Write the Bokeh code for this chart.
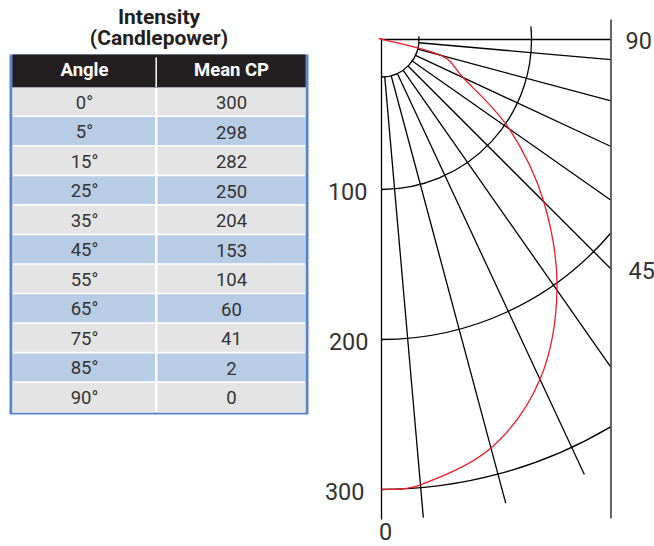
import numpy as np
from bokeh.plotting import figure
from bokeh.models import Range1d
from bokeh.core.properties import value
from bokeh.embed import file_html
from bokeh.resources import INLINE

# ---------------- data ----------------
angles = [0, 5, 15, 25, 35, 45, 55, 65, 75, 85, 90]
mean_cp = [300, 298, 282, 250, 204, 153, 104, 60, 41, 2, 0]
angle_labels = [f"{a}°" for a in angles]
cp_labels = [str(v) for v in mean_cp]
ring_radii = [100, 200, 300]
ring_labels = ["100", "200", "300"]
spoke_angles = [5, 15, 25, 35, 45, 55, 65, 75, 85]
title_lines = ["Intensity", "(Candlepower)"]
header_labels = ["Angle", "Mean CP"]

# ---------------- geometry helpers (pixel layout -> data units) ----------------
W, H = 654, 546
SCALE = 1.5           # pixels per candlepower unit
OX, OY = 381, 39      # polar origin in page pixels
TSHIFT = 8            # baseline correction for text placement


def X(px):
    return (px - OX) / SCALE


def Y(py):
    return (OY - py) / SCALE


def YT(py):
    return Y(py - TSHIFT)


def pol(theta_deg, r):
    t = np.radians(np.asarray(theta_deg, dtype=float))
    r = np.asarray(r, dtype=float)
    return r * np.sin(t), -r * np.cos(t)


p = figure(width=W, height=H, output_backend="svg", toolbar_location=None,
           x_range=Range1d(X(0), X(W)), y_range=Range1d(Y(H), Y(0)),
           min_border=0, tools="")
p.axis.visible = False
p.grid.visible = False
p.outline_line_color = None
p.background_fill_color = "white"
p.border_fill_color = "white"

FONT = value("Roboto")
TXT = "#333333"

# ---------------- polar grid ----------------
R_MAX = 320
INNER_R = 25
ARC_END = 95
X_EDGE = X(610.5)
LW = 1.3

# arcs
for r in [INNER_R] + ring_radii:
    end = ARC_END
    if r * np.sin(np.radians(ARC_END)) > X_EDGE:
        end = np.degrees(np.arcsin(X_EDGE / r))
    p.arc(x=0, y=0, radius=r, start_angle=np.radians(-90),
          end_angle=np.radians(end - 90), line_color="black", line_width=LW)

# spokes
sa = np.array(spoke_angles, dtype=float)
r_end = np.minimum(R_MAX, X_EDGE / np.sin(np.radians(sa)))
x0, y0 = pol(sa, INNER_R)
x1, y1 = pol(sa, r_end)
p.segment(x0=x0, y0=y0, x1=x1, y1=y1, line_color="black", line_width=LW)
# 0 deg and 90 deg axes
p.segment(x0=[0, 0], y0=[0, 0], x1=[0, X_EDGE], y1=[-R_MAX, 0],
          line_color="black", line_width=LW)
# right boundary
p.segment(x0=[X_EDGE], y0=[Y(19)], x1=[X_EDGE], y1=[Y(518)],
          line_color="#555555", line_width=1.8)

# ---------------- candlepower curve (smooth through the data) ----------------
px_, py_ = pol(angles, mean_cp)
n = len(px_)
xs = np.concatenate([[px_[0]], px_, [px_[-1]]])
ys = np.concatenate([[py_[0]], py_, [py_[-1]]])
bx0, by0, bx1, by1, cx0, cy0, cx1, cy1 = [], [], [], [], [], [], [], []
for i in range(n - 1):
    j = i + 1
    bx0.append(xs[j]); by0.append(ys[j])
    bx1.append(xs[j + 1]); by1.append(ys[j + 1])
    cx0.append(xs[j] + (xs[j + 1] - xs[j - 1]) / 6)
    cy0.append(ys[j] + (ys[j + 1] - ys[j - 1]) / 6)
    cx1.append(xs[j + 1] - (xs[j + 2] - xs[j]) / 6)
    cy1.append(ys[j + 1] - (ys[j + 2] - ys[j]) / 6)
p.bezier(x0=bx0, y0=by0, x1=bx1, y1=by1, cx0=cx0, cy0=cy0, cx1=cx1, cy1=cy1,
         line_color="#ee1c24", line_width=1.3)

# ring labels and side labels
LBL = "23.5px"
ring_right = [367, 368, 364]
ring_base = [199, 349, 499]
p.text(x=[X(v) for v in ring_right], y=[YT(b) for b in ring_base], text=ring_labels,
       text_align="right", text_baseline="alphabetic", text_font=FONT,
       text_font_size=LBL, text_color=TXT)
p.text(x=[X(625), X(628)], y=[YT(48), YT(278)], text=["90", "45"],
       text_align="left", text_baseline="alphabetic", text_font=FONT,
       text_font_size=LBL, text_color=TXT)
p.text(x=[0], y=[YT(539)], text=["0"], x_offset=[4],
       text_align="center", text_baseline="alphabetic", text_font=FONT,
       text_font_size=LBL, text_color=TXT)

# ---------------- table ----------------
BLUE_BORDER = "#5a86c8"
HEADER = "#231f20"
GRAY = "#e4e4e4"
BLUE = "#b9cce5"

T_LEFT, T_RIGHT, T_TOP, T_BOTTOM = 9, 308, 54, 414
p.quad(left=[X(T_LEFT)], right=[X(T_RIGHT)], top=[Y(T_TOP)], bottom=[Y(T_BOTTOM)],
       fill_color=BLUE_BORDER, line_color=None)
p.quad(left=[X(12)], right=[X(305)], top=[Y(87)], bottom=[Y(412)],
       fill_color="white", line_color=None)
p.quad(left=[X(12)], right=[X(305)], top=[Y(T_TOP)], bottom=[Y(87)],
       fill_color=HEADER, line_color=None)
p.segment(x0=[X(155.7)], y0=[Y(57)], x1=[X(155.7)], y1=[Y(87)],
          line_color="white", line_width=1.5)

ROW_TOP0, ROW_H = 87, (412 - 87) / len(angles)
lefts, rights, tops, bottoms, colors = [], [], [], [], []
for i in range(len(angles)):
    t = ROW_TOP0 + i * ROW_H
    b = 412 if i == len(angles) - 1 else t + ROW_H - 1.6
    c = GRAY if i % 2 == 0 else BLUE
    for (l, r) in [(12, 154.6), (157, 305)]:
        lefts.append(X(l)); rights.append(X(r))
        tops.append(Y(t)); bottoms.append(Y(b)); colors.append(c)
p.quad(left=lefts, right=rights, top=tops, bottom=bottoms,
       fill_color=colors, line_color=None)

COL_L, COL_R = 84, 231
base = [YT(110 + i * ROW_H) for i in range(len(angles))]
p.text(x=[X(COL_L)] * len(angles), y=base, text=angle_labels, text_align="center",
       text_baseline="alphabetic", text_font=FONT, text_font_size="18.5px",
       text_color=TXT)
p.text(x=[X(COL_R)] * len(angles), y=base, text=cp_labels, text_align="center",
       text_baseline="alphabetic", text_font=FONT, text_font_size="18.5px",
       text_color=TXT)
p.text(x=[X(COL_L), X(COL_R)], y=[YT(77), YT(77)], text=header_labels,
       text_align="center", text_baseline="alphabetic", text_font=FONT,
       text_font_size="18.5px", text_font_style="bold", text_color="white")
p.text(x=[X(158.5), X(158.5)], y=[YT(24), YT(45)], text=title_lines,
       text_align="center", text_baseline="alphabetic", text_font=FONT,
       text_font_size="21px", text_font_style="bold", text_color=HEADER)

open("out.html", "w").write(file_html(p, INLINE))
